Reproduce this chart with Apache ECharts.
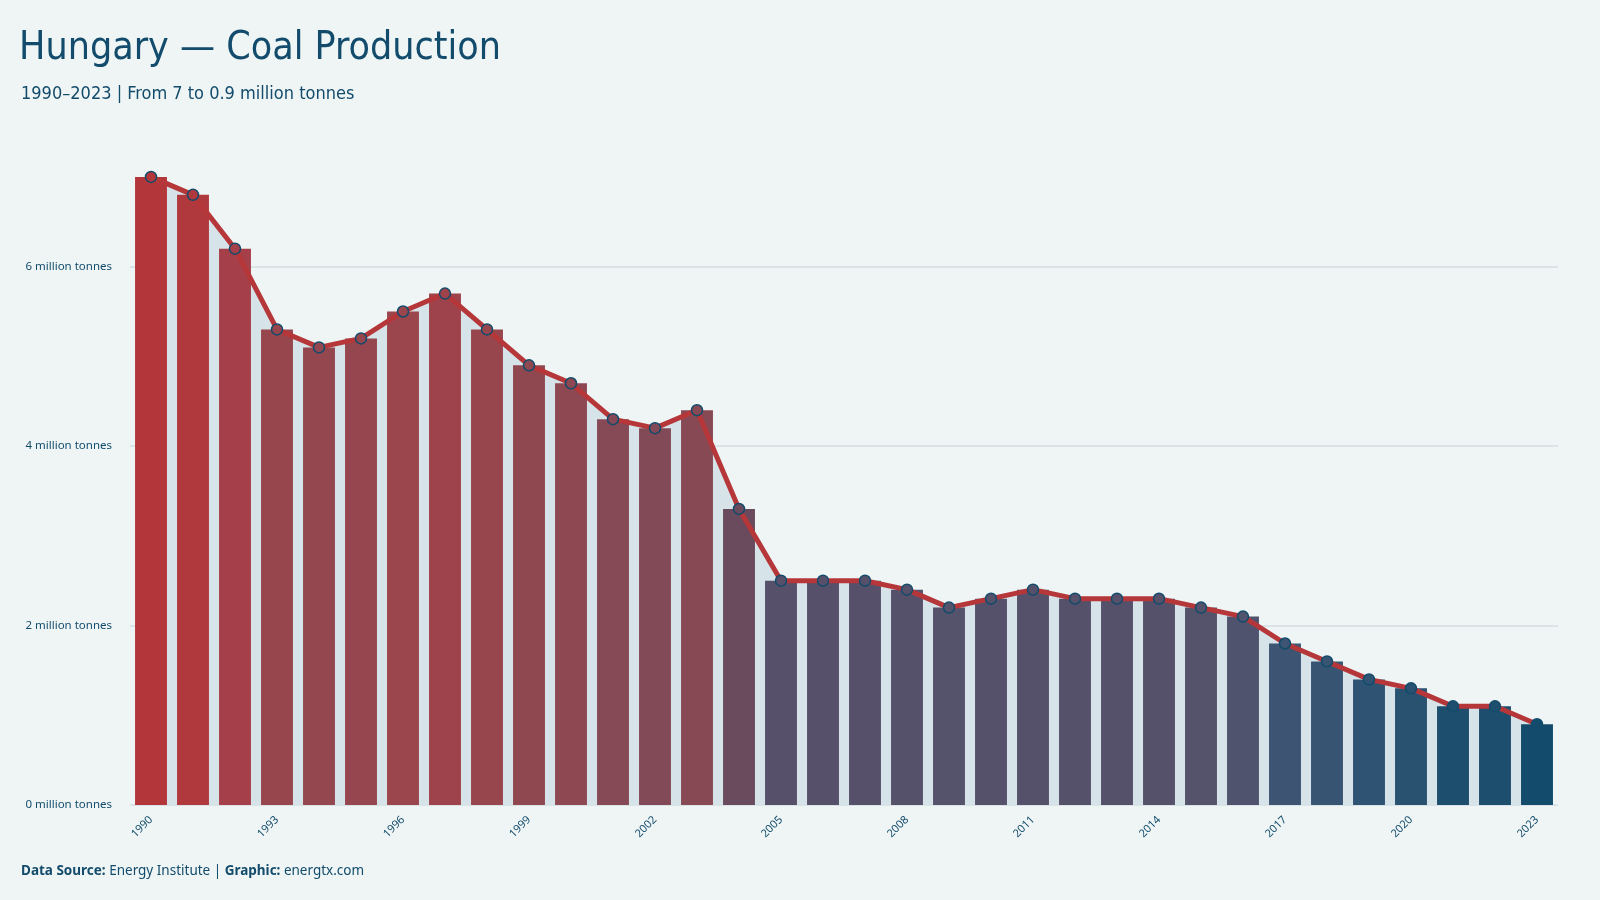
<!DOCTYPE html>
<html lang="en">
<head>
  <meta charset="UTF-8">
  <title>Hungary - Coal Production</title>
  <script src="https://cdn.jsdelivr.net/npm/echarts@6/dist/echarts.min.js"></script>
  <style>
    html, body { margin: 0; padding: 0; background: #eff5f5; }
    #chart { width: 1600px; height: 900px; }
  </style>
</head>
<body>
  <div id="chart"></div>
  <script>
    // data (million tonnes)
    var years = ['1990','1991','1992','1993','1994','1995','1996','1997','1998','1999','2000',
                 '2001','2002','2003','2004','2005','2006','2007','2008','2009','2010','2011',
                 '2012','2013','2014','2015','2016','2017','2018','2019','2020','2021','2022','2023']
    var production = [7.0, 6.8, 6.2, 5.3, 5.1, 5.2, 5.5, 5.7, 5.3, 4.9, 4.7,
                      4.3, 4.2, 4.4, 3.3, 2.5, 2.5, 2.5, 2.4, 2.2, 2.3, 2.4,
                      2.3, 2.3, 2.3, 2.2, 2.1, 1.8, 1.6, 1.4, 1.3, 1.1, 1.1, 0.9]
    var yTicks = [0, 2, 4, 6]

    // colour scale by value (blue low -> red high)
    var stopValues = [0.9, 1.5, 1.8, 2.2, 2.5, 3.3, 4.3, 5.3, 6.2, 7.0]
    var stopColors = ['#124b6b', '#355473', '#3d5572', '#55526b', '#56506a',
                      '#6a4b5e', '#854a55', '#98464d', '#a5404a', '#b3373a']

    function colorFor(v) {
      if (v <= stopValues[0]) return stopColors[0]
      for (var i = 1; i < stopValues.length; i++) {
        if (v <= stopValues[i]) {
          var t = (v - stopValues[i - 1]) / (stopValues[i] - stopValues[i - 1])
          return echarts.color.lerp(t, [stopColors[i - 1], stopColors[i]])
        }
      }
      return stopColors[stopColors.length - 1]
    }

    var dark = '#124b6b'
    var red = '#b5373a'
    var titleFont = "'Liberation Sans Narrow', 'DejaVu Sans Condensed', Roboto, sans-serif"
    var bodyFont = "'Noto Sans', 'Open Sans', sans-serif"

    var barData = production.map(function (v) {
      return { value: v, itemStyle: { color: colorFor(v) } }
    })
    var lineData = production.map(function (v) {
      return { value: v, itemStyle: { color: colorFor(v) } }
    })

    var chart = echarts.init(document.getElementById('chart'))
    var option = {
      backgroundColor: '#eff5f5',
      animation: false,
      title: [
        {
          text: 'Hungary \u2014 Coal Production',
          left: 19, top: 29, padding: 0,
          textStyle: { fontFamily: titleFont, fontSize: 39, fontWeight: 'normal', color: dark }
        },
        {
          text: '1990\u20132023 | From 7 to 0.9 million tonnes',
          left: 21, top: 85, padding: 0,
          textStyle: { fontFamily: titleFont, fontSize: 18, fontWeight: 'normal', color: dark }
        },
        {
          text: '{b|Data Source:} Energy Institute | {b|Graphic:} energtx.com',
          left: 21, top: 864, padding: 0,
          textStyle: {
            fontFamily: bodyFont, fontSize: 13.5, fontWeight: 'normal', color: dark,
            rich: { b: { fontFamily: bodyFont, fontSize: 13.5, fontWeight: 'bold', color: dark } }
          }
        }
      ],
      grid: { left: 130, right: 42, top: 150, bottom: 95 },
      xAxis: {
        type: 'category',
        data: years,
        axisLine: { show: false },
        axisTick: { show: false },
        axisLabel: {
          interval: 2,
          rotate: 45,
          margin: 13,
          fontFamily: bodyFont,
          fontSize: 11,
          color: dark
        }
      },
      yAxis: {
        type: 'value',
        min: 0,
        max: 7.3,
        interval: 2,
        axisLine: { show: false },
        axisTick: { show: false },
        axisLabel: {
          showMaxLabel: false,
          margin: 18,
          fontFamily: bodyFont,
          fontSize: 11.5,
          color: dark,
          formatter: function (v) {
            return yTicks.indexOf(v) >= 0 ? v + ' million tonnes' : ''
          }
        },
        splitLine: { showMaxLine: false, lineStyle: { color: '#d3dde0', width: 1.5 } }
      },
      series: [
        {
          name: 'area',
          type: 'line',
          data: production,
          symbol: 'none',
          lineStyle: { width: 0 },
          areaStyle: { color: '#d6e3e8', opacity: 1 },
          silent: true,
          z: 1
        },
        {
          name: 'Production',
          type: 'bar',
          data: barData,
          barCategoryGap: '24%',
          z: 2
        },
        {
          name: 'trend',
          type: 'line',
          data: lineData,
          symbol: 'circle',
          symbolSize: 11,
          lineStyle: { color: red, width: 5 },
          itemStyle: { borderColor: dark, borderWidth: 1.5 },
          z: 3
        }
      ]
    }
    chart.setOption(option)
  </script>
</body>
</html>
